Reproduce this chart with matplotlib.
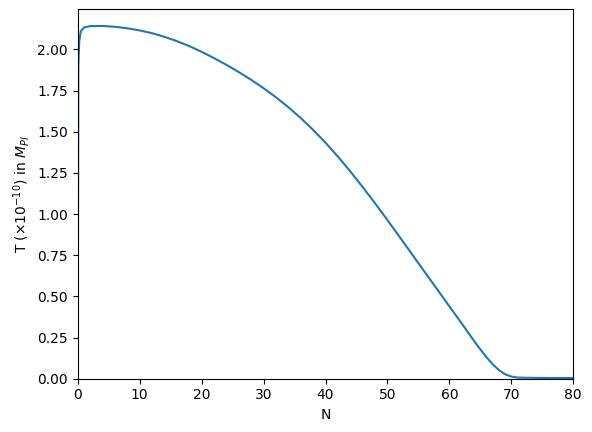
import matplotlib
matplotlib.use('Agg')
import matplotlib.pyplot as plt
from matplotlib.ticker import MultipleLocator

# values
N = [0, 0.1, 0.25, 0.5, 1, 2, 4, 6, 8, 10, 12, 14, 16, 18, 20, 22, 24, 26, 28,
     30, 32, 34, 36, 38, 40, 42, 44, 46, 48, 50, 52, 54, 56, 58, 60, 62, 64,
     65, 66, 67, 68, 69, 70, 71, 72, 74, 77, 80]
T = [0.0, 1.9, 2.05, 2.11, 2.132, 2.141, 2.142, 2.137, 2.128, 2.115, 2.098,
     2.076, 2.05, 2.02, 1.985, 1.947, 1.906, 1.862, 1.815, 1.764, 1.709, 1.649,
     1.583, 1.511, 1.433, 1.349, 1.259, 1.164, 1.065, 0.963, 0.859, 0.754,
     0.649, 0.544, 0.439, 0.335, 0.228, 0.178, 0.13, 0.087, 0.052, 0.027,
     0.013, 0.007, 0.006, 0.005, 0.004, 0.004]

fig = plt.figure(figsize=(5.92, 4.32), dpi=100)
ax = fig.add_axes([77.7/592, 1-378.7/432, (573.3-77.7)/592, (378.7-9)/432])
ax.plot(N, T)
ax.set_xlim(0, 80)
ax.set_ylim(0, 2.245)
ax.yaxis.set_major_locator(MultipleLocator(0.25))
ax.set_xlabel('N')
ax.set_ylabel(r'T ($\times10^{-10}$) in $M_{Pl}$')
fig.savefig('out.png')
